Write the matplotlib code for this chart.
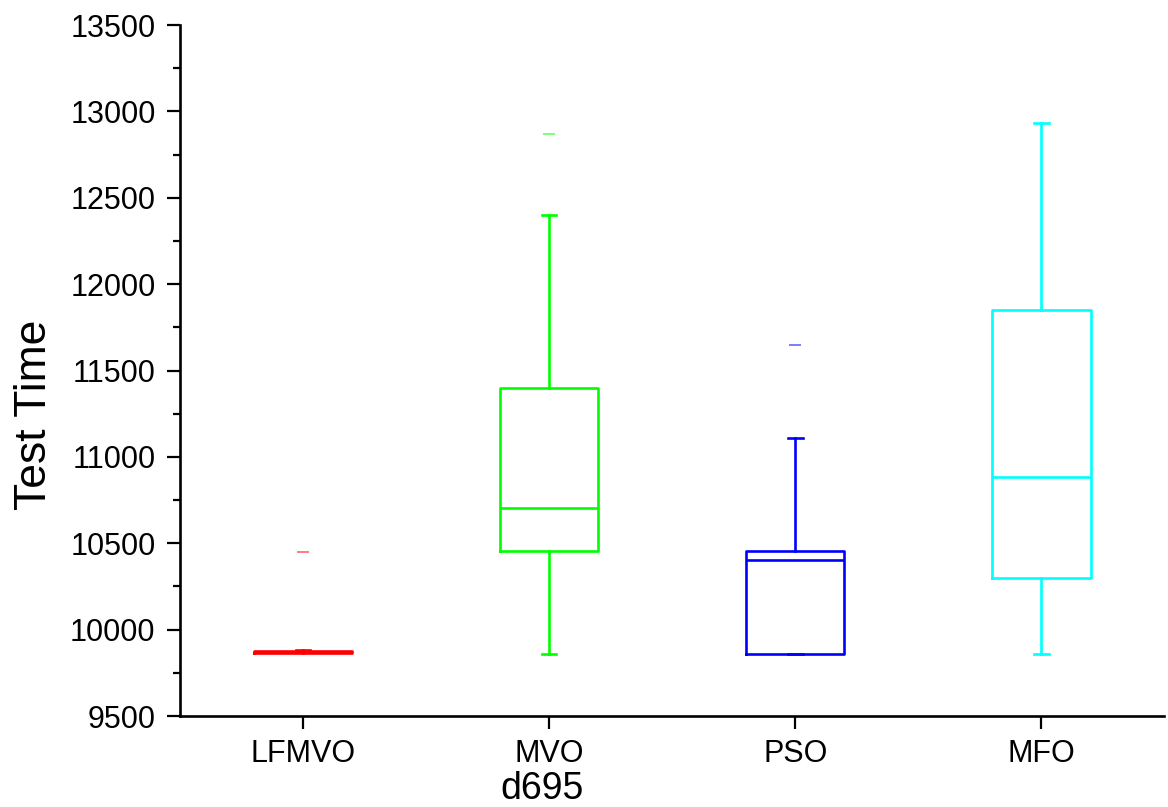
import matplotlib
matplotlib.use('Agg')
import matplotlib.pyplot as plt
from matplotlib.ticker import MultipleLocator

# box statistics
algos = ['LFMVO', 'MVO', 'PSO', 'MFO']
whislo = [9870, 9860, 9860, 9860]
q1 = [9866, 10455, 9860, 10300]
med = [9870, 10705, 10405, 10885]
q3 = [9875, 11400, 10455, 11850]
whishi = [9885, 12400, 11110, 12930]
fliers = [[10450], [12870], [11645], []]
colors = ['#ff0000', '#00ff00', '#0000ff', '#00ffff']

plt.rcParams['font.family'] = ['Liberation Sans', 'DejaVu Sans']

fig = plt.figure(figsize=(11.68, 8.07), dpi=100, facecolor='w')
ax = fig.add_axes([0.154, 0.1127, 0.843, 0.8563])

stats = []
for i in range(len(algos)):
    stats.append(dict(label=algos[i], whislo=whislo[i], q1=q1[i], med=med[i],
                      q3=q3[i], whishi=whishi[i], fliers=fliers[i]))

for i, s in enumerate(stats):
    c = colors[i]
    ax.bxp([s], positions=[i + 1], widths=0.4, capwidths=0.06,
           boxprops=dict(color=c, linewidth=1.9),
           medianprops=dict(color=c, linewidth=1.9),
           whiskerprops=dict(color=c, linewidth=1.9),
           capprops=dict(color=c, linewidth=1.9),
           flierprops=dict(marker='_', markeredgecolor=c, markersize=8,
                           markeredgewidth=1.2, alpha=0.6))

ax.set_xlim(0.5, 4.5)
ax.set_ylim(9500, 13500)
ax.set_xticks(range(1, len(algos) + 1))
ax.set_xticklabels(algos)
ax.yaxis.set_major_locator(MultipleLocator(500))
ax.yaxis.set_minor_locator(MultipleLocator(250))

for side in ['top', 'right']:
    ax.spines[side].set_visible(False)
for side in ['left', 'bottom']:
    ax.spines[side].set_linewidth(1.9)

ax.tick_params(axis='both', which='major', direction='out', length=9.5,
               width=1.6, labelsize=22)
ax.tick_params(axis='y', which='minor', direction='out', length=5, width=1.6)
ax.tick_params(axis='y', pad=8)
ax.tick_params(axis='x', pad=7)

ax.set_xlabel('d695', fontsize=27)
ax.set_ylabel('Test Time', fontsize=32)
ax.xaxis.set_label_coords(0.368, -0.080)
ax.yaxis.set_label_coords(-0.127, 0.436)

plt.savefig('out.png', dpi=100, facecolor='w')
